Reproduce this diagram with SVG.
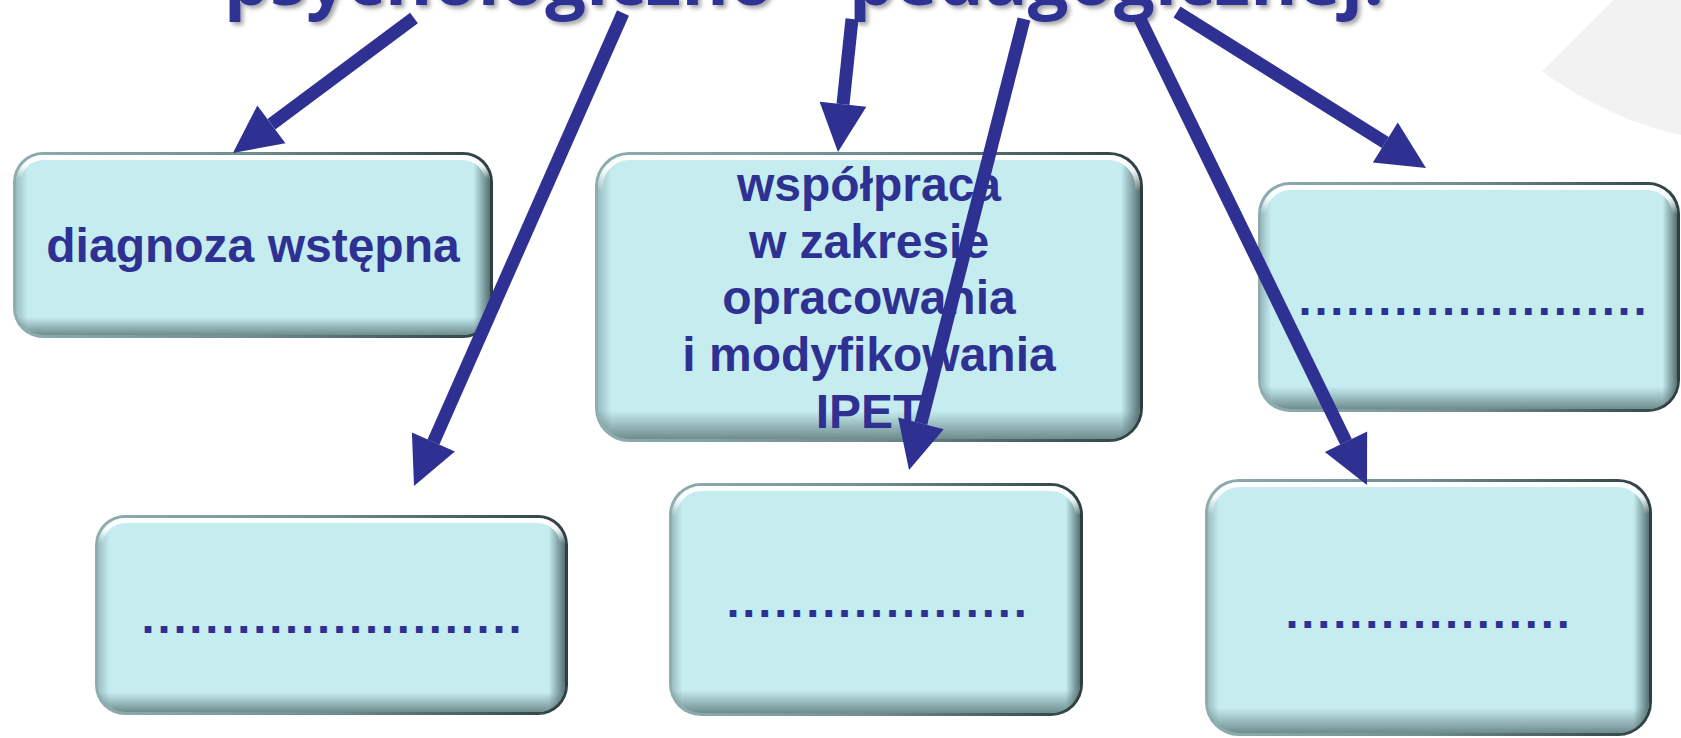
<svg xmlns="http://www.w3.org/2000/svg" width="1681" height="738" viewBox="0 0 1681 738">
<defs>
<style>
.rim{fill:url(#rimG)}
.face{fill:#C5EDF0}
.side{fill:url(#sideG)}
.bot{fill:url(#botG)}
.hl{fill:none;stroke:url(#hlG);stroke-width:5}
.lbl{font-family:"Liberation Sans",Arial,sans-serif;font-weight:bold;font-size:48px;fill:#2E3192;text-anchor:middle}
.dots{font-size:47px;letter-spacing:2.9px}
.arr{stroke:#2E3192;stroke-width:13;fill:none;marker-end:url(#ah)}
.title{font-family:"Open Sans","Liberation Sans",sans-serif;font-weight:bold;font-size:72px;fill:#2E3192}
</style>
<linearGradient id="rimG" x1="0" y1="0" x2="1" y2="0">
<stop offset="0" stop-color="#8FADAF"/><stop offset="0.5" stop-color="#718D8F"/><stop offset="1" stop-color="#2E3F41"/>
</linearGradient>
<linearGradient id="hlG" x1="0" y1="0" x2="0" y2="1">
<stop offset="0" stop-color="#fff" stop-opacity="1"/><stop offset="0.05" stop-color="#fff" stop-opacity="0.85"/><stop offset="0.12" stop-color="#fff" stop-opacity="0"/>
</linearGradient>
<linearGradient id="sideG" x1="0" y1="0" x2="1" y2="0">
<stop offset="0" stop-color="#7D9C9E" stop-opacity="0.6"/><stop offset="0.025" stop-color="#7D9C9E" stop-opacity="0"/><stop offset="0.965" stop-color="#3A5052" stop-opacity="0"/><stop offset="1" stop-color="#3A5052" stop-opacity="0.8"/>
</linearGradient>
<linearGradient id="botG" x1="0" y1="0" x2="0" y2="1">
<stop offset="0.9" stop-color="#4A6264" stop-opacity="0"/><stop offset="1" stop-color="#4A6264" stop-opacity="0.7"/>
</linearGradient>
<marker id="ah" viewBox="0 -24 48 48" refX="0" refY="0" markerWidth="48" markerHeight="48" markerUnits="userSpaceOnUse" orient="auto" overflow="visible">
<path d="M0,-23.5 L48,0 L0,23.5 Z" fill="#2E3192"/>
</marker>
<filter id="ts" x="-5%" y="-50%" width="110%" height="200%">
<feDropShadow dx="3" dy="3" stdDeviation="2" flood-color="#000" flood-opacity="0.35"/>
</filter>
</defs>
<rect width="1681" height="738" fill="#fff"/>
<path d="M1613,0 L1542,71 C1570,92 1620,122 1681,135 L1681,0 Z" fill="#F3F2F2"/>
<text class="title" x="224" y="5" textLength="1160" lengthAdjust="spacing" filter="url(#ts)">psychologiczno – pedagogicznej:</text>

<g id="box1">
<rect class="rim" x="13" y="152" width="480" height="186" rx="30"/>
<rect class="face" x="16" y="155" width="474" height="180" rx="27"/>
<rect class="side" x="16" y="155" width="474" height="180" rx="27"/>
<rect class="bot" x="16" y="155" width="474" height="180" rx="27"/>
<rect class="hl" x="18.5" y="157.5" width="469" height="175" rx="25"/>
<text class="lbl" x="253" y="262">diagnoza wstępna</text>
</g>

<g id="box2">
<rect class="rim" x="595" y="152" width="548" height="290" rx="34"/>
<rect class="face" x="598" y="155" width="542" height="284" rx="31"/>
<rect class="side" x="598" y="155" width="542" height="284" rx="31"/>
<rect class="bot" x="598" y="155" width="542" height="284" rx="31"/>
<rect class="hl" x="600.5" y="157.5" width="537" height="279" rx="29"/>
<text class="lbl" x="869" y="201">współpraca</text>
<text class="lbl" x="869" y="258">w zakresie</text>
<text class="lbl" x="869" y="314">opracowania</text>
<text class="lbl" x="869" y="371">i modyfikowania</text>
<text class="lbl" x="869" y="428">IPET</text>
</g>

<g id="box3">
<rect class="rim" x="1258" y="182" width="422" height="230" rx="32"/>
<rect class="face" x="1261" y="185" width="416" height="224" rx="29"/>
<rect class="side" x="1261" y="185" width="416" height="224" rx="29"/>
<rect class="bot" x="1261" y="185" width="416" height="224" rx="29"/>
<rect class="hl" x="1263.5" y="187.5" width="411" height="219" rx="27"/>
<text class="lbl dots" x="1474" y="315">......................</text>
</g>

<g id="box4">
<rect class="rim" x="95" y="515" width="473" height="200" rx="30"/>
<rect class="face" x="98" y="518" width="467" height="194" rx="27"/>
<rect class="side" x="98" y="518" width="467" height="194" rx="27"/>
<rect class="bot" x="98" y="518" width="467" height="194" rx="27"/>
<rect class="hl" x="100.5" y="520.5" width="462" height="189" rx="25"/>
<text class="lbl dots" x="333" y="633">........................</text>
</g>

<g id="box5">
<rect class="rim" x="669" y="483" width="414" height="233" rx="32"/>
<rect class="face" x="672" y="486" width="408" height="227" rx="29"/>
<rect class="side" x="672" y="486" width="408" height="227" rx="29"/>
<rect class="bot" x="672" y="486" width="408" height="227" rx="29"/>
<rect class="hl" x="674.5" y="488.5" width="403" height="222" rx="27"/>
<text class="lbl dots" x="878" y="617">...................</text>
</g>

<g id="box6">
<rect class="rim" x="1205" y="479" width="447" height="257" rx="34"/>
<rect class="face" x="1208" y="482" width="441" height="251" rx="31"/>
<rect class="side" x="1208" y="482" width="441" height="251" rx="31"/>
<rect class="bot" x="1208" y="482" width="441" height="251" rx="31"/>
<rect class="hl" x="1210.5" y="484.5" width="436" height="246" rx="29"/>
<text class="lbl dots" x="1429" y="628">..................</text>
</g>

<g id="connectors">
<line class="arr" x1="414" y1="18" x2="271.4" y2="124.3"/>
<line class="arr" x1="623" y1="13" x2="433.4" y2="442.1"/>
<line class="arr" x1="852" y1="19" x2="843" y2="104.3"/>
<line class="arr" x1="1024" y1="19" x2="920.9" y2="423.4"/>
<line class="arr" x1="1140" y1="19" x2="1346" y2="441.8"/>
<line class="arr" x1="1177" y1="12" x2="1385.3" y2="142.5"/>
</g>
</svg>
